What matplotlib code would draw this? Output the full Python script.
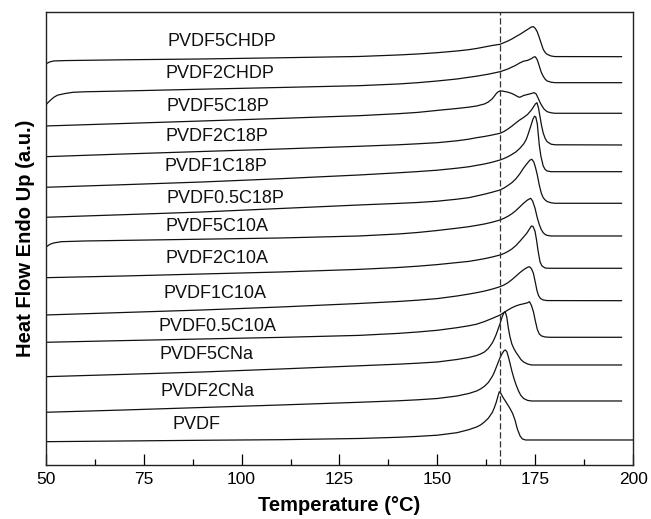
"""plot.py
Stacked DSC melting curves (heat flow, endo up) for PVDF and its
composites. Curves are drawn offset, label sits above each trace.
"""
# Standard imports
import matplotlib
matplotlib.use("Agg")
import matplotlib.pyplot as plt
from matplotlib.ticker import MultipleLocator

plt.rcParams['font.family'] = ['Liberation Sans', 'DejaVu Sans']

# Sample names, top trace first
samples = ["PVDF5CHDP", "PVDF2CHDP", "PVDF5C18P", "PVDF2C18P",
           "PVDF1C18P", "PVDF0.5C18P", "PVDF5C10A", "PVDF2C10A",
           "PVDF1C10A", "PVDF0.5C10A", "PVDF5CNa", "PVDF2CNa", "PVDF"]

# Temperature (C) / heat flow (a.u., already offset)
T_5chdp = [50, 51, 52, 55, 70, 90, 110, 130, 140, 145, 150, 155, 158, 160,
           162, 164, 166, 168, 169, 170, 171, 172, 173, 174, 174.5, 175,
           175.5, 176, 176.5, 177, 177.5, 178, 179, 180, 197]
hf_5chdp = [401, 403, 404, 404.4, 405.2, 406, 407.2, 408.5, 410, 411, 412.3,
            414, 415.3, 416.5, 418, 419.5, 420.7, 424, 426, 428.3, 430.5,
            433, 435.5, 438, 438.3, 436.5, 433, 427.5, 421.5, 415.7, 412.5,
            410.7, 409, 408.4, 408.3]

T_2chdp = [50, 51, 52, 53, 55, 57, 60, 70, 90, 110, 130, 140, 145, 150, 155,
           160, 163, 166, 168, 170, 171, 172, 173, 174, 174.5, 175, 175.5,
           176, 176.5, 177, 177.5, 178, 179, 180, 197]
hf_2chdp = [360, 364, 367.5, 369.8, 371.5, 372.7, 373.2, 374, 375.8, 377.5,
            379.3, 381, 382.3, 384, 386, 388.8, 390.8, 393.3, 396, 399.7,
            402, 403.8, 404.6, 406.3, 407.8, 408.2, 405, 399, 392.8, 388.7,
            385.8, 384, 382.8, 382.3, 382.3]

T_5c18p = [50, 70, 90, 110, 130, 140, 145, 150, 155, 158, 160, 161, 162, 163,
           164, 164.5, 165, 165.5, 166, 166.5, 167, 168, 169, 170, 170.5, 171,
           171.5, 172, 173, 174, 174.7, 175.2, 175.7, 176.2, 176.7, 177.2,
           178, 179, 180, 197]
hf_5c18p = [339, 341.5, 344, 346.6, 349.3, 351.3, 352.6, 354.6, 356.5, 357.8,
            359, 360, 361, 363, 366.2, 368.7, 371.3, 373.2, 374, 374, 373.6,
            372.8, 371.5, 369.5, 368.3, 367.7, 368.5, 369.5, 370.5, 371.5,
            372.3, 371, 367, 362.5, 359, 356, 353.3, 352.2, 351.7, 351.7]

T_2c18p = [50, 70, 90, 110, 130, 140, 145, 150, 155, 158, 160, 162, 164, 166,
           167, 168, 169, 170, 171, 172, 173, 174, 174.5, 175, 175.4, 175.8,
           176.2, 176.6, 177, 177.5, 178, 179, 180, 197]
hf_2c18p = [308.3, 311, 313.5, 316, 318.7, 320.2, 321.2, 322.3, 324.2, 325.8,
            327.3, 328.5, 330, 331.7, 333.5, 336, 338.8, 342, 345, 347.5,
            350.5, 355, 358, 361, 362.3, 357, 348, 339, 332, 326.5, 323.3,
            320.8, 320.2, 320]

T_1c18p = [50, 70, 90, 110, 130, 140, 145, 150, 155, 158, 160, 162, 164, 166,
           167, 168, 169, 170, 171, 172, 172.6, 173, 173.5, 174, 174.4, 174.8,
           175.1, 175.5, 176, 176.4, 177, 177.5, 178, 179, 197]
hf_1c18p = [277.7, 280.3, 283, 286.3, 290, 292.2, 293.4, 294.8, 296.8, 298.2,
            299.6, 301, 302.8, 305, 306.5, 308.3, 310.5, 313, 316.5, 321, 325,
            329, 335, 341, 346, 348.8, 348, 341, 320, 309, 299, 295.5, 294,
            293.3, 293.3]

T_05c18p = [50, 70, 90, 110, 130, 140, 145, 150, 155, 158, 160, 162, 164, 166,
            167, 168, 169, 170, 171, 172, 173, 173.6, 174.1, 174.6, 175,
            175.5, 176, 176.5, 177, 177.5, 178, 179, 180, 197]
hf_05c18p = [247.7, 250.3, 253, 256.5, 260, 261.6, 262.5, 263.8, 265.8, 267.3,
             269, 270.8, 272.8, 275, 277, 279.5, 282.3, 286, 291, 297, 302,
             304.8, 305.7, 303, 298, 290, 280, 272, 267.3, 265, 263.5, 262.2,
             261.7, 261.7]

T_5c10a = [50, 51, 52, 54, 60, 70, 90, 110, 130, 140, 145, 150, 155, 158, 160,
           162, 164, 166, 167, 168, 169, 170, 171, 172, 173, 173.8, 174.3,
           174.9, 175.5, 176, 176.5, 177, 177.5, 178, 179, 197]
hf_5c10a = [217.7, 220.5, 222, 223.3, 224, 224.6, 225.8, 227, 229, 231, 232.5,
            234.5, 236.8, 238.3, 239.6, 241, 242.8, 245, 246.7, 248.7, 251.2,
            254.3, 258, 261.8, 265, 266.7, 264, 257, 247, 240.5, 235.5, 232.3,
            230.5, 229.6, 229, 229]

T_2c10a = [50, 70, 90, 110, 130, 140, 145, 150, 155, 158, 160, 162, 164, 166,
           167, 168, 169, 170, 171, 172, 172.8, 173.5, 174, 174.4, 174.9, 175.3,
           175.7, 176.2, 176.7, 177.5, 178.5, 197]
hf_2c10a = [187.3, 189, 191, 193, 195.6, 197.5, 198.8, 200.4, 202.4, 203.6,
            204.9, 206.3, 208, 210, 211.5, 213.5, 216, 219.3, 223.5, 228,
            231.7, 236, 239, 238.5, 234, 225, 214, 203, 199, 197, 196.7,
            196.7]

T_1c10a = [50, 70, 90, 110, 130, 140, 145, 150, 155, 158, 160, 162, 164, 166,
           167, 168, 169, 170, 171, 172, 173, 173.5, 174, 174.5, 175, 175.4,
           175.8, 176.3, 177, 178, 197]
hf_1c10a = [150, 152.5, 155, 158, 161.5, 163.5, 164.8, 166.4, 169, 170.9,
            172.3, 173.9, 175.9, 178.3, 180, 182.3, 185.3, 188.7, 192.2, 195.3,
            197.7, 198.3, 196.3, 191.7, 182.5, 174.5, 169.5, 166.5, 165, 164.4,
            164.3]

T_05c10a = [50, 70, 90, 110, 130, 140, 145, 150, 155, 158, 160, 162, 164, 166,
            167, 168, 169, 170, 171, 172, 173, 173.5, 174, 174.5, 175, 175.5,
            176, 176.6, 177.5, 178.7, 197]
hf_05c10a = [122.7, 124.4, 126, 127.6, 129.6, 131.6, 133, 134.7, 137.3, 139.2,
             140.8, 143.4, 146.6, 150, 152.5, 155, 157.2, 159, 160.3, 161.2,
             162.2, 163.3, 159.5, 153.3, 144, 135.5, 131, 129, 128, 127.7,
             127.7]

T_5cna = [50, 70, 90, 110, 130, 140, 145, 150, 155, 158, 160, 161, 162, 163,
          164, 164.5, 165, 165.5, 166, 166.5, 167, 167.3, 167.7, 168.1, 168.5,
          169, 169.5, 170, 170.7, 171.3, 172, 173, 174, 197]
hf_5cna = [88.3, 90.6, 93, 96, 99.2, 100.8, 101.8, 103, 105.5, 107.5, 109.5,
           111, 113, 116.5, 122, 126, 130.5, 136, 141.5, 148, 152.5, 153.3,
           148, 137, 128.5, 121, 116.5, 113, 109, 105.5, 103, 101, 100, 100]

T_2cna = [50, 70, 90, 110, 130, 140, 145, 150, 155, 158, 160, 161, 162, 163,
          164, 164.5, 165, 165.5, 166, 166.5, 167, 167.3, 167.7, 168.1, 168.6,
          169, 169.5, 170, 170.7, 171.3, 172, 173, 174, 197]
hf_2cna = [52.7, 55, 57.5, 60, 62.7, 64.2, 65.2, 66.5, 69, 71.5, 74, 76, 78.7,
           82.5, 88.5, 92.5, 97.5, 102.5, 107.5, 111.3, 114.3, 115, 113.5,
           108.3, 100.5, 94, 87, 81, 74, 69.5, 66.5, 64.6, 64, 64]

T_pvdf = [50, 70, 90, 110, 130, 140, 145, 150, 155, 158, 160, 161, 162, 163,
          164, 164.5, 165, 165.5, 165.8, 166.2, 166.8, 167.5, 168.5, 169.2,
          169.8, 170.4, 171.1, 171.7, 172.5, 200]
hf_pvdf = [23.3, 24, 24.7, 25.3, 26.5, 27.7, 28.6, 29.8, 32.3, 35.3, 38, 40,
           43, 46.8, 52.5, 57, 62.5, 69.5, 73.3, 71.5, 67.2, 63, 56.7, 51.5,
           45, 36, 29, 26, 25, 25]

# melting point of neat PVDF, marked with the dashed line
T_ref = 166.0


def MakeDSCPlot():
    """ Build the stacked DSC figure and return it. """
    fig = plt.figure(figsize=(6.51, 5.19), dpi=100)
    ax = fig.add_axes([0.0702, 0.1035, 0.9026, 0.874])

    curves = [(T_5chdp, hf_5chdp), (T_2chdp, hf_2chdp), (T_5c18p, hf_5c18p),
              (T_2c18p, hf_2c18p), (T_1c18p, hf_1c18p), (T_05c18p, hf_05c18p),
              (T_5c10a, hf_5c10a), (T_2c10a, hf_2c10a), (T_1c10a, hf_1c10a),
              (T_05c10a, hf_05c10a), (T_5cna, hf_5cna), (T_2cna, hf_2cna),
              (T_pvdf, hf_pvdf)]
    for T, hf in curves:
        ax.plot(T, hf, color="#111111", lw=0.9, solid_joinstyle="round")

    # label spots, picked to sit just above each trace
    lab_x = [94.9, 94.5, 94.0, 93.7, 93.4, 95.8, 93.8, 93.7, 93.2, 93.9,
             91.1, 91.3, 88.5]
    lab_y = [423.3, 391, 358.3, 328.3, 298.3, 266.7, 238.3, 206.7, 171.7,
             138.3, 110, 73.3, 40]
    for name, x, y in zip(samples, lab_x, lab_y):
        ax.text(x, y, name, fontsize=13, ha="center", va="center",
                color="#111111")

    ax.axvline(T_ref, color="#333333", lw=0.9, linestyle=(0, (5, 2.2)))

    ax.set_xlim(50, 200)
    ax.set_ylim(-0.3, 453.3)
    ax.xaxis.set_major_locator(MultipleLocator(25))
    ax.xaxis.set_minor_locator(MultipleLocator(12.5))
    ax.tick_params(axis="x", which="major", direction="in", length=8,
                   width=0.9, labelsize=12.5, pad=5)
    ax.tick_params(axis="x", which="minor", direction="in", length=4.3,
                   width=0.9)
    ax.set_yticks([])
    for sp in ax.spines.values():
        sp.set_linewidth(1.0)
        sp.set_color("#222222")

    ax.set_xlabel("Temperature (\u00b0C)", fontsize=14.5, fontweight="bold",
                  labelpad=6)
    ax.set_ylabel("Heat Flow Endo Up (a.u.)", fontsize=14.5,
                  fontweight="bold", labelpad=8)
    return fig


if __name__ == "__main__":
    fig = MakeDSCPlot()
    fig.savefig("out.png", dpi=100)
